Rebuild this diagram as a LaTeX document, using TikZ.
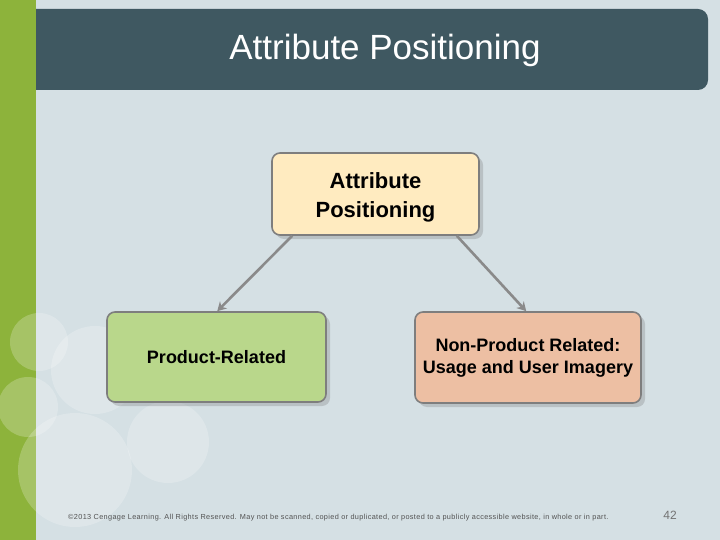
\documentclass[tikz,border=0pt]{standalone}
\usepackage{fontspec}
\setmainfont{Liberation Sans}
\usetikzlibrary{shadows,arrows.meta}
\definecolor{bgc}{HTML}{D5E0E4}
\definecolor{barc}{HTML}{3F5861}
\definecolor{greenc}{HTML}{8DB33B}
\definecolor{topc}{HTML}{FFEBC0}
\definecolor{leftc}{HTML}{B9D78B}
\definecolor{rightc}{HTML}{EDBFA3}
\definecolor{edgec}{HTML}{7E7E7E}
\definecolor{arrc}{HTML}{8A8A8A}
\tikzset{
  box/.style={draw=edgec, line width=1.6pt, rounded corners=8pt, align=center,
    font=\bfseries, inner sep=0pt,
    drop shadow={shadow xshift=4pt, shadow yshift=-4pt, opacity=0.25, fill=black!60}},
  arr/.style={draw=arrc, line width=2.6pt, -{Stealth[length=9pt,width=10pt]}},
  bubble/.style={fill=white, fill opacity=0.22, draw=none}
}
\begin{document}
\begin{tikzpicture}[x=1pt,y=-1pt]
\useasboundingbox (0,0) rectangle (720,540);
\fill[bgc] (0,0) rectangle (720,540);
% title bar
\fill[barc, rounded corners=10pt] (20,9) rectangle (708,90);
\fill[greenc] (0,0) rectangle (36,540);
% bubbles
\fill[bubble] (39,342) circle (29);
\fill[bubble] (95,370) circle (44);
\fill[bubble] (28,407) circle (30);
\fill[bubble] (75,470) circle (57);
\fill[bubble] (168,442) circle (41);
\node[text=white, font=\fontsize{35}{40}\selectfont] (title) at (385,50) {Attribute Positioning};
% boxes
\node[box, fill=topc, minimum width=207pt, minimum height=82pt] (top) at (375.5,194) {};
\node[align=center, font=\bfseries\fontsize{22}{29}\selectfont] (toptext) at ([yshift=-3pt]top.center) {Attribute\\Positioning};
\node[box, fill=leftc, minimum width=219pt, minimum height=90pt,
  font=\bfseries\fontsize{18}{22}\selectfont] (left) at (216.5,357) {Product-Related};
\node[box, fill=rightc, minimum width=226pt, minimum height=91pt,
  font=\bfseries\fontsize{18}{22}\selectfont] (right) at (528,357.5) {Non-Product Related:\\Usage and User Imagery};
% arrows
\draw[arr] ([xshift=21pt]top.south west) -- ([xshift=111pt]left.north west);
\draw[arr] ([xshift=-23pt]top.south east) -- ([xshift=112pt]right.north west);
% footer
\node[text=black!68, font=\fontsize{7.3}{8}\selectfont\addfontfeatures{LetterSpace=5}, anchor=west, inner sep=0pt] (foot) at (68,518)
  {\textcopyright2013 Cengage Learning. All Rights Reserved. May not be scanned, copied or duplicated, or posted to a publicly accessible website, in whole or in part.};
\node[text=black!55, font=\fontsize{12}{14}\selectfont] (num) at (670,515) {42};
\end{tikzpicture}
\end{document}
